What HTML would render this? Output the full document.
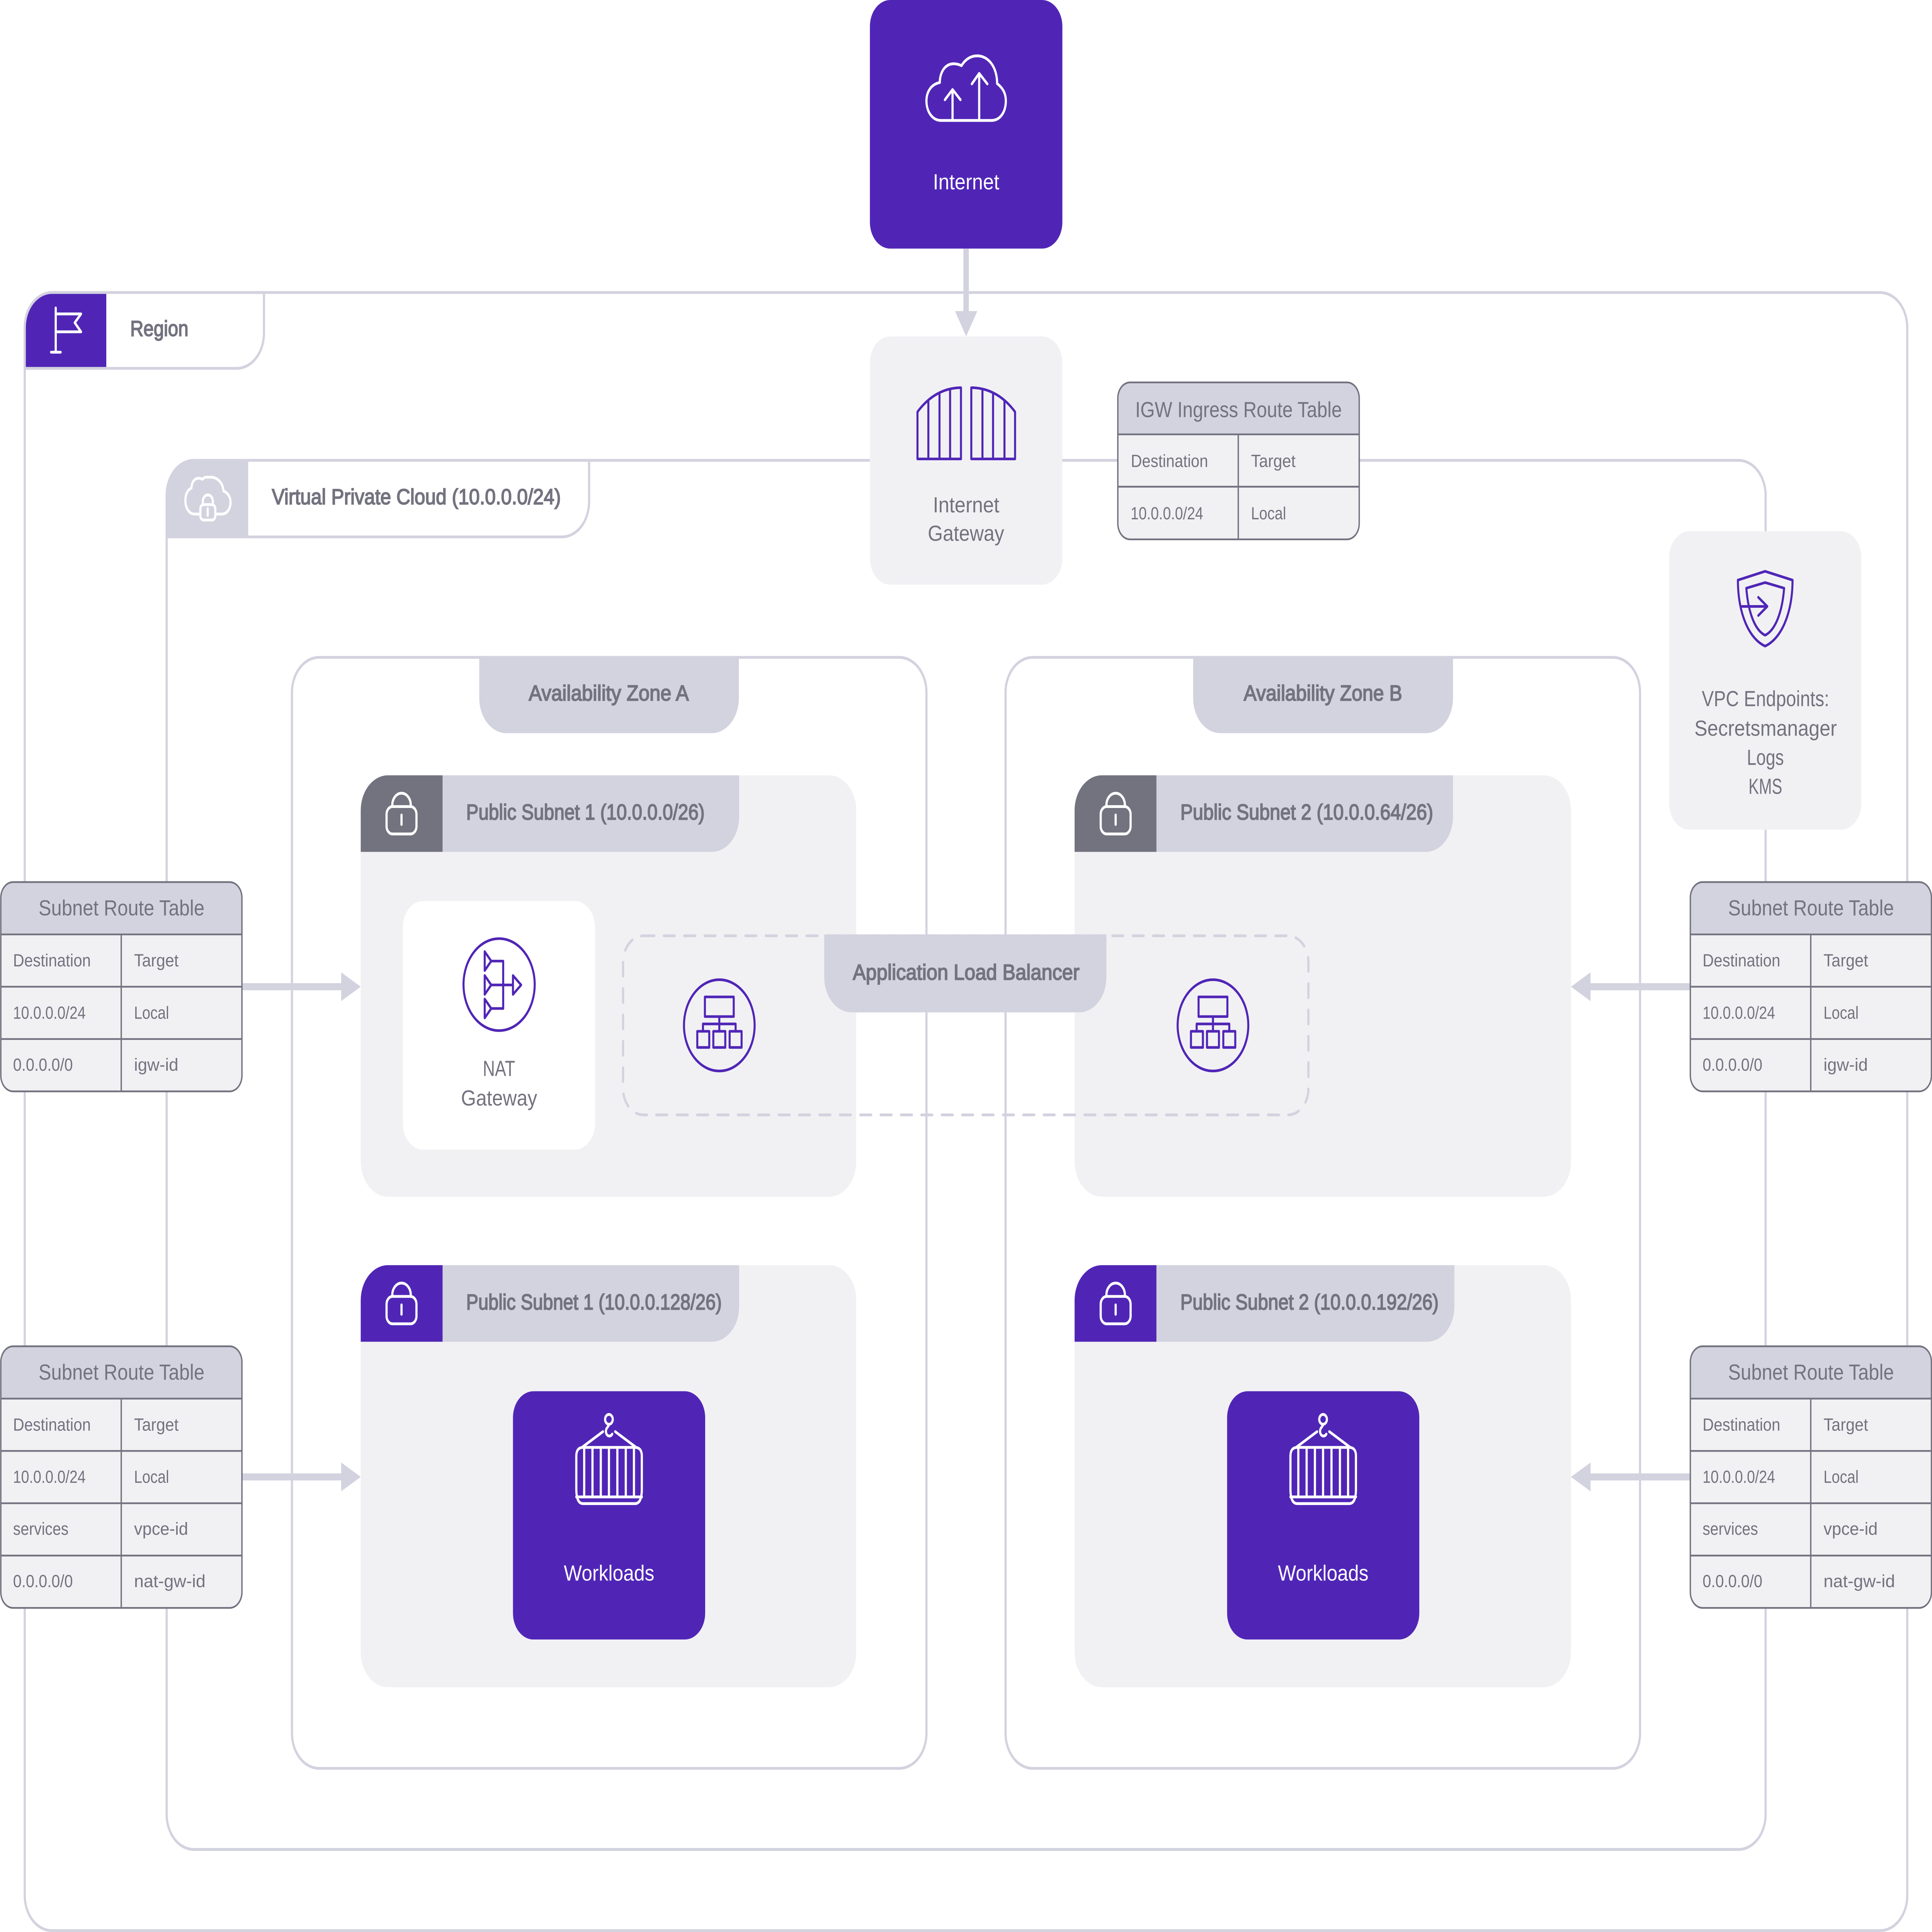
<!DOCTYPE html>
<html><head><meta charset="utf-8"><title>AWS VPC diagram</title>
<style>
html,body{margin:0;padding:0;background:#fff;width:100%;height:100%;overflow:hidden}
svg{display:block;width:100vw;height:100vh}
text{font-family:"Liberation Sans",sans-serif;fill:#73727f;font-size:62px}
.m{stroke:#73727f;stroke-width:2.5px}
.c{font-size:50px}
.w{fill:#fff}
.i{fill:none;stroke:#5025b6;stroke-width:7.5;stroke-linejoin:round;stroke-linecap:round}
.iw{fill:none;stroke:#fff;stroke-width:8;stroke-linejoin:round;stroke-linecap:round}
.ln{fill:none;stroke:#d3d2df;stroke-width:8}
.tb{fill:none;stroke:#73727f;stroke-width:5}
</style></head><body>
<svg xmlns="http://www.w3.org/2000/svg" viewBox="0 0 7107 5502" preserveAspectRatio="none">
<defs>
<g id="lock">
<rect x="95" y="89" width="110" height="78" rx="22" class="iw"/>
<path d="M116 89 V85 A34 34 0 0 1 184 85 V89" class="iw"/>
<path d="M150 113 V140" class="iw"/>
</g>
<g id="alb">
<circle r="130" class="i"/>
<rect x="-53" y="-81" width="106" height="56" class="i"/>
<path d="M0 -25 V17 M-60 17 V-4 H60 V17" class="i"/>
<rect x="-81" y="17" width="44" height="46" class="i"/>
<rect x="-22" y="17" width="44" height="46" class="i"/>
<rect x="38" y="17" width="44" height="46" class="i"/>
</g>
<g id="box">
<path d="M233 278 V185 Q233 160 258 160 H449 Q474 160 474 185 V278 Q474 320 449 320 H258 Q233 320 233 278 Z" class="iw"/>
<path d="M233 341 H474" class="iw" transform="translate(0,-40)"/>
<path d="M262 160 V301 M292.500 160 V301 M323 160 V301 M353 160 V301 M384 160 V301 M415 160 V301 M445 160 V301" class="iw"/>
<path d="M257 158 L331 115 M450 158 L376 115" class="iw"/>
<circle cx="353" cy="80" r="14" class="iw"/>
<path d="M353 95 C351 102 342 104 342 114 C342 128 358 132 365 122" class="iw"/>
</g>
<g id="t3">
<rect x="0" y="0" width="887" height="596" rx="45" fill="#f1f1f4"/>
<path d="M0 149 V45 A45 45 0 0 1 45 0 H842 A45 45 0 0 1 887 45 V149 Z" fill="#d3d2df"/>
<path d="M0 149 H887 M0 298 H887 M0 447 H887 M443 149 V596" class="tb"/>
<rect x="0" y="0" width="887" height="596" rx="45" class="tb"/>
</g>
<g id="t4">
<rect x="0" y="0" width="887" height="745" rx="45" fill="#f1f1f4"/>
<path d="M0 149 V45 A45 45 0 0 1 45 0 H842 A45 45 0 0 1 887 45 V149 Z" fill="#d3d2df"/>
<path d="M0 149 H887 M0 298 H887 M0 447 H887 M0 596 H887 M443 149 V745" class="tb"/>
<rect x="0" y="0" width="887" height="745" rx="45" class="tb"/>
</g>
</defs>

<!-- Region -->
<rect x="91" y="833" width="6925" height="4665" rx="100" fill="#fff" class="ln"/>
<path d="M91 1049 V933 A100 100 0 0 1 191 833 H971 V949 A100 100 0 0 1 871 1049 Z" fill="#fff" class="ln"/>
<path d="M95 1045 V933 A96 96 0 0 1 191 837 H391 V1045 Z" fill="#5025b6"/>
<path d="M205 877 V1003 M188 1003 H223 M205 894 H298 L275 919 L298 945 H205" class="iw" stroke-linejoin="miter"/>
<text x="479" y="957" class="m" textLength="214" lengthAdjust="spacingAndGlyphs">Region</text>

<!-- VPC -->
<rect x="613" y="1311" width="5882" height="3956" rx="100" fill="#fff" class="ln"/>
<path d="M613 1529 V1411 A100 100 0 0 1 713 1311 H2167 V1429 A100 100 0 0 1 2067 1529 Z" fill="#fff" class="ln"/>
<path d="M613 1529 V1411 A100 100 0 0 1 713 1311 H913 V1529 Z" fill="#d3d2df"/>
<path d="M733 1464 H715 C696 1464 682 1447 682 1425 C682 1408 690 1395 704 1390 C706 1368 722 1356 745 1365 C752 1357 764 1359 775 1359 C800 1359 820 1375 822 1398 C838 1404 848 1415 848 1430 C848 1450 834 1464 815 1464 H796" class="iw"/>
<rect x="737" y="1437" width="55" height="44" rx="12" class="iw"/>
<path d="M746 1437 V1428 A18 18 0 0 1 783 1428 V1437 M764 1448 V1468" class="iw" stroke-width="6"/>
<text x="1000" y="1436" class="m" textLength="1063" lengthAdjust="spacingAndGlyphs">Virtual Private Cloud (10.0.0.0/24)</text>

<!-- AZs -->
<rect x="1074" y="1872" width="2334" height="3164" rx="100" fill="#fff" class="ln"/>
<rect x="3699" y="1872" width="2334" height="3164" rx="100" fill="#fff" class="ln"/>
<path d="M1763 1868 H2718 V1988 A100 100 0 0 1 2618 2088 H1863 A100 100 0 0 1 1763 1988 Z" fill="#d3d2df"/>
<path d="M4389 1868 H5345 V1988 A100 100 0 0 1 5245 2088 H4489 A100 100 0 0 1 4389 1988 Z" fill="#d3d2df"/>
<text x="1945" y="1995" class="m" textLength="589" lengthAdjust="spacingAndGlyphs">Availability Zone A</text>
<text x="4575" y="1995" class="m" textLength="583" lengthAdjust="spacingAndGlyphs">Availability Zone B</text>

<!-- Subnets -->
<rect x="1327" y="2208" width="1823" height="1200" rx="100" fill="#f1f1f4"/>
<rect x="3953" y="2208" width="1826" height="1200" rx="100" fill="#f1f1f4"/>
<rect x="1327" y="3603" width="1823" height="1202" rx="100" fill="#f1f1f4"/>
<rect x="3953" y="3603" width="1826" height="1202" rx="100" fill="#f1f1f4"/>

<path d="M1327 2426 V2308 A100 100 0 0 1 1427 2208 H2719 V2326 A100 100 0 0 1 2619 2426 Z" fill="#d3d2df"/>
<path d="M1327 2426 V2308 A100 100 0 0 1 1427 2208 H1628 V2426 Z" fill="#73727f"/>
<use href="#lock" x="1327" y="2208"/>
<text x="1715" y="2334" class="m" textLength="877" lengthAdjust="spacingAndGlyphs">Public Subnet 1 (10.0.0.0/26)</text>

<path d="M3953 2426 V2308 A100 100 0 0 1 4053 2208 H5345 V2326 A100 100 0 0 1 5245 2426 Z" fill="#d3d2df"/>
<path d="M3953 2426 V2308 A100 100 0 0 1 4053 2208 H4254 V2426 Z" fill="#73727f"/>
<use href="#lock" x="3954" y="2208"/>
<text x="4342" y="2334" class="m" textLength="930" lengthAdjust="spacingAndGlyphs">Public Subnet 2 (10.0.0.64/26)</text>

<path d="M1327 3821 V3703 A100 100 0 0 1 1427 3603 H2719 V3721 A100 100 0 0 1 2619 3821 Z" fill="#d3d2df"/>
<path d="M1327 3821 V3703 A100 100 0 0 1 1427 3603 H1628 V3821 Z" fill="#5025b6"/>
<use href="#lock" x="1327" y="3603"/>
<text x="1715" y="3729" class="m" textLength="940" lengthAdjust="spacingAndGlyphs">Public Subnet 1 (10.0.0.128/26)</text>

<path d="M3953 3821 V3703 A100 100 0 0 1 4053 3603 H5350 V3721 A100 100 0 0 1 5250 3821 Z" fill="#d3d2df"/>
<path d="M3953 3821 V3703 A100 100 0 0 1 4053 3603 H4254 V3821 Z" fill="#5025b6"/>
<use href="#lock" x="3954" y="3603"/>
<text x="4342" y="3729" class="m" textLength="950" lengthAdjust="spacingAndGlyphs">Public Subnet 2 (10.0.0.192/26)</text>

<!-- NAT -->
<rect x="1482" y="2566" width="707" height="708" rx="75" fill="#fff"/>
<circle cx="1836" cy="2804" r="131" class="i"/>
<path d="M1783 2710 L1807 2737 L1783 2764 Z M1783 2778 L1807 2805 L1783 2832 Z M1783 2845 L1807 2872 L1783 2899 Z M1887 2778 L1917 2805 L1887 2832 Z" class="i"/>
<path d="M1807 2737 H1851 V2872 H1807 M1807 2805 H1887" class="i"/>
<text x="1776" y="3064" textLength="119" lengthAdjust="spacingAndGlyphs">NAT</text>
<text x="1696" y="3148" textLength="280" lengthAdjust="spacingAndGlyphs">Gateway</text>

<!-- ALB -->
<rect x="2292" y="2665" width="2521" height="510" rx="75" fill="none" stroke="#d3d2df" stroke-width="8" stroke-dasharray="40 35" stroke-linecap="round"/>
<use href="#alb" x="2646" y="2920"/>
<use href="#alb" x="4462" y="2920"/>
<path d="M3032 2661 H4070 V2783 A100 100 0 0 1 3970 2883 H3132 A100 100 0 0 1 3032 2783 Z" fill="#d3d2df"/>
<text x="3137" y="2790" class="m" textLength="834" lengthAdjust="spacingAndGlyphs">Application Load Balancer</text>

<!-- Workloads -->
<rect x="1887" y="3962" width="707" height="707" rx="75" fill="#5025b6"/>
<rect x="4514" y="3962" width="707" height="707" rx="75" fill="#5025b6"/>
<use href="#box" x="1887" y="3962"/>
<use href="#box" x="4514" y="3962"/>
<text x="2074" y="4501" class="w" textLength="333" lengthAdjust="spacingAndGlyphs">Workloads</text>
<text x="4701" y="4501" class="w" textLength="333" lengthAdjust="spacingAndGlyphs">Workloads</text>

<!-- Internet -->
<rect x="3200" y="0" width="708" height="708" rx="75" fill="#5025b6"/>
<path d="M3461 343 H3647 C3680 343 3700 318 3700 287 C3700 265 3688 250 3668 238 C3668 190 3635 159 3595 159 C3570 159 3550 170 3537 187 C3490 170 3458 195 3457 235 C3425 240 3408 262 3408 287 C3408 318 3430 343 3461 343 Z" class="iw"/>
<path d="M3504 343 V255 M3476 284 L3504 255 L3533 284 M3602 343 V209 M3575 239 L3602 209 L3632 239" class="iw"/>
<text x="3432" y="539" class="w" textLength="244" lengthAdjust="spacingAndGlyphs">Internet</text>

<!-- Internet Gateway -->
<rect x="3200" y="958" width="708" height="707" rx="75" fill="#f1f1f4"/>
<path d="M3544 708 V890 H3564 V708 Z" fill="#d3d2df"/>
<path d="M3513 886 H3595 L3554 958 Z" fill="#d3d2df"/>
<path d="M3375 1307 V1173 Q3440 1105 3535 1104 V1307 Z M3415 1142 V1307 M3456 1120 V1307 M3495 1108 V1307" class="i"/>
<path d="M3734 1307 V1173 Q3669 1105 3573 1104 V1307 Z M3614 1108 V1307 M3653 1120 V1307 M3695 1142 V1307" class="i"/>
<text x="3432" y="1459" textLength="244" lengthAdjust="spacingAndGlyphs">Internet</text>
<text x="3413" y="1540" textLength="281" lengthAdjust="spacingAndGlyphs">Gateway</text>

<!-- IGW table -->
<g transform="translate(4112,1089)">
<rect width="888" height="447" rx="45" fill="#f1f1f4"/>
<path d="M0 148 V45 A45 45 0 0 1 45 0 H843 A45 45 0 0 1 888 45 V148 Z" fill="#d3d2df"/>
<path d="M0 148 H888 M0 297 H888 M443 148 V447" class="tb"/>
<rect width="888" height="447" rx="45" class="tb"/>
<text x="64" y="99" textLength="760" lengthAdjust="spacingAndGlyphs">IGW Ingress Route Table</text>
<text x="48" y="241" class="c" textLength="284" lengthAdjust="spacingAndGlyphs">Destination</text>
<text x="490" y="241" class="c" textLength="164" lengthAdjust="spacingAndGlyphs">Target</text>
<text x="47" y="390" class="c" textLength="267" lengthAdjust="spacingAndGlyphs">10.0.0.0/24</text>
<text x="490" y="390" class="c" textLength="129" lengthAdjust="spacingAndGlyphs">Local</text>
</g>

<!-- VPC endpoints -->
<rect x="6140" y="1513" width="707" height="850" rx="75" fill="#f1f1f4"/>
<path d="M6493 1627 L6594 1652 C6594 1750 6550 1820 6493 1840 C6436 1820 6393 1750 6393 1652 Z" class="i"/>
<path d="M6493 1659 L6563 1675 C6556 1745 6530 1795 6493 1809 C6456 1795 6431 1745 6424 1675 Z" class="i"/>
<path d="M6408 1727 H6501 M6468 1701 L6501 1727 L6468 1753" class="i"/>
<text x="6260" y="2011" textLength="469" lengthAdjust="spacingAndGlyphs">VPC Endpoints:</text>
<text x="6233" y="2095" textLength="524" lengthAdjust="spacingAndGlyphs">Secretsmanager</text>
<text x="6426" y="2178" textLength="136" lengthAdjust="spacingAndGlyphs">Logs</text>
<text x="6432" y="2261" textLength="124" lengthAdjust="spacingAndGlyphs">KMS</text>

<!-- Arrows -->
<path d="M890 2800 H1255 V2769 L1327 2810 L1255 2851 V2820 H890 Z" fill="#d3d2df"/>
<path d="M890 4196 H1255 V4165 L1327 4206 L1255 4247 V4216 H890 Z" fill="#d3d2df"/>
<path d="M6218 2800 H5851 V2769 L5779 2810 L5851 2851 V2820 H6218 Z" fill="#d3d2df"/>
<path d="M6218 4196 H5851 V4165 L5779 4206 L5851 4247 V4216 H6218 Z" fill="#d3d2df"/>

<!-- Subnet tables -->
<g transform="translate(3,2512)">
<use href="#t3"/>
<text x="139" y="95" textLength="610" lengthAdjust="spacingAndGlyphs">Subnet Route Table</text>
<text x="45" y="240" class="c" textLength="286" lengthAdjust="spacingAndGlyphs">Destination</text>
<text x="490" y="240" class="c" textLength="164" lengthAdjust="spacingAndGlyphs">Target</text>
<text x="45" y="389" class="c" textLength="267" lengthAdjust="spacingAndGlyphs">10.0.0.0/24</text>
<text x="490" y="389" class="c" textLength="129" lengthAdjust="spacingAndGlyphs">Local</text>
<text x="45" y="537" class="c" textLength="220" lengthAdjust="spacingAndGlyphs">0.0.0.0/0</text>
<text x="490" y="537" class="c" textLength="163" lengthAdjust="spacingAndGlyphs">igw-id</text>
</g>
<g transform="translate(6218,2512)">
<use href="#t3"/>
<text x="139" y="95" textLength="610" lengthAdjust="spacingAndGlyphs">Subnet Route Table</text>
<text x="45" y="240" class="c" textLength="286" lengthAdjust="spacingAndGlyphs">Destination</text>
<text x="490" y="240" class="c" textLength="164" lengthAdjust="spacingAndGlyphs">Target</text>
<text x="45" y="389" class="c" textLength="267" lengthAdjust="spacingAndGlyphs">10.0.0.0/24</text>
<text x="490" y="389" class="c" textLength="129" lengthAdjust="spacingAndGlyphs">Local</text>
<text x="45" y="537" class="c" textLength="220" lengthAdjust="spacingAndGlyphs">0.0.0.0/0</text>
<text x="490" y="537" class="c" textLength="163" lengthAdjust="spacingAndGlyphs">igw-id</text>
</g>
<g transform="translate(3,3834)">
<use href="#t4"/>
<text x="139" y="95" textLength="610" lengthAdjust="spacingAndGlyphs">Subnet Route Table</text>
<text x="45" y="240" class="c" textLength="286" lengthAdjust="spacingAndGlyphs">Destination</text>
<text x="490" y="240" class="c" textLength="164" lengthAdjust="spacingAndGlyphs">Target</text>
<text x="45" y="389" class="c" textLength="267" lengthAdjust="spacingAndGlyphs">10.0.0.0/24</text>
<text x="490" y="389" class="c" textLength="129" lengthAdjust="spacingAndGlyphs">Local</text>
<text x="45" y="537" class="c" textLength="204" lengthAdjust="spacingAndGlyphs">services</text>
<text x="490" y="537" class="c" textLength="199" lengthAdjust="spacingAndGlyphs">vpce-id</text>
<text x="45" y="686" class="c" textLength="220" lengthAdjust="spacingAndGlyphs">0.0.0.0/0</text>
<text x="490" y="686" class="c" textLength="263" lengthAdjust="spacingAndGlyphs">nat-gw-id</text>
</g>
<g transform="translate(6218,3834)">
<use href="#t4"/>
<text x="139" y="95" textLength="610" lengthAdjust="spacingAndGlyphs">Subnet Route Table</text>
<text x="45" y="240" class="c" textLength="286" lengthAdjust="spacingAndGlyphs">Destination</text>
<text x="490" y="240" class="c" textLength="164" lengthAdjust="spacingAndGlyphs">Target</text>
<text x="45" y="389" class="c" textLength="267" lengthAdjust="spacingAndGlyphs">10.0.0.0/24</text>
<text x="490" y="389" class="c" textLength="129" lengthAdjust="spacingAndGlyphs">Local</text>
<text x="45" y="537" class="c" textLength="204" lengthAdjust="spacingAndGlyphs">services</text>
<text x="490" y="537" class="c" textLength="199" lengthAdjust="spacingAndGlyphs">vpce-id</text>
<text x="45" y="686" class="c" textLength="220" lengthAdjust="spacingAndGlyphs">0.0.0.0/0</text>
<text x="490" y="686" class="c" textLength="263" lengthAdjust="spacingAndGlyphs">nat-gw-id</text>
</g>
</svg>
</body></html>
